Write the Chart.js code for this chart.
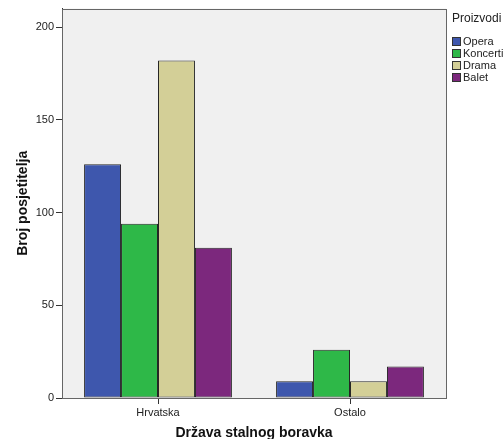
<!DOCTYPE html>
<html>
<head>
<meta charset="utf-8">
<script src="https://cdn.jsdelivr.net/npm/chart.js@4.4.0/dist/chart.umd.min.js"></script>
<style>
html, body { margin: 0; padding: 0; background: #fff; overflow: hidden; }
#wrap { width: 504px; height: 439px; position: relative; }
</style>
</head>
<body>
<div id="wrap"><canvas id="myChart"></canvas></div>
<script>
var categories = ["Hrvatska", "Ostalo"];
var seriesNames = ["Opera", "Koncerti", "Drama", "Balet"];
var opera = [126, 9];
var koncerti = [94, 26];
var drama = [182, 9];
var balet = [81, 17];
var yTicks = [0, 50, 100, 150, 200];
var colors = ["#3e57ad", "#2eb848", "#d3cf97", "#7c287d"];

var FONT = "'Liberation Sans', Arial, sans-serif";

// grey plot background + frame, like SPSS
var plotFrame = {
    id: 'plotFrame',
    beforeDraw: function(chart) {
        var a = chart.chartArea, ctx = chart.ctx;
        ctx.save();
        ctx.fillStyle = '#f0f0f0';
        ctx.fillRect(a.left, a.top, a.right - a.left, a.bottom - a.top);
        ctx.restore();
    },
    afterDraw: function(chart) {
        var a = chart.chartArea, ctx = chart.ctx;
        ctx.save();
        ctx.strokeStyle = '#666';
        ctx.lineWidth = 1;
        ctx.strokeRect(Math.round(a.left) + 0.5, Math.round(a.top) + 0.5,
            Math.round(a.right - a.left), Math.round(a.bottom - a.top));
        ctx.restore();
    }
};

// legend on the right, cut off by the picture edge
var sideLegend = {
    id: 'sideLegend',
    afterDraw: function(chart) {
        var ctx = chart.ctx;
        var x = chart.chartArea.right + 6;
        ctx.save();
        ctx.fillStyle = '#222';
        ctx.textBaseline = 'middle';
        ctx.font = '12px ' + FONT;
        ctx.fillText('Proizvodi', x, 19);
        ctx.font = '11px ' + FONT;
        chart.data.datasets.forEach(function(ds, i) {
            var y = 41.5 + i * 12;
            ctx.fillStyle = ds.backgroundColor;
            ctx.fillRect(x + 0.5, y - 4, 8, 8);
            ctx.strokeStyle = '#333';
            ctx.strokeRect(x + 0.5, y - 4, 8, 8);
            ctx.fillStyle = '#222';
            ctx.fillText(ds.label, x + 11, y + 0.5);
        });
        ctx.restore();
    }
};

var series = [opera, koncerti, drama, balet];

var config = {
    type: 'bar',
    data: {
        labels: categories,
        datasets: series.map(function(d, i) {
            return {
                label: seriesNames[i],
                data: d,
                backgroundColor: colors[i],
                borderColor: '#262626',
                borderWidth: 1,
                borderSkipped: false,
                categoryPercentage: 0.77,
                barPercentage: 1.0
            };
        })
    },
    options: {
        responsive: true,
        maintainAspectRatio: false,
        animation: false,
        layout: { padding: { top: 8, right: 58, left: 0, bottom: 0 } },
        plugins: {
            legend: { display: false },
            tooltip: { enabled: false }
        },
        scales: {
            x: {
                offset: true,
                grid: { display: true, offset: false, drawOnChartArea: false, drawTicks: true, tickLength: 6, color: '#333' },
                border: { display: true, color: '#333' },
                ticks: { color: '#222', font: { family: FONT, size: 11 }, padding: 2 },
                title: {
                    display: true,
                    text: 'Država stalnog boravka',
                    color: '#111',
                    font: { family: FONT, size: 14, weight: 'bold' },
                    padding: { top: 0, bottom: -3 }
                },
                afterFit: function(s) { s.height = 41; }
            },
            y: {
                min: 0,
                max: 210,
                grid: { display: true, drawOnChartArea: false, drawTicks: true, tickLength: 6, color: '#333' },
                border: { display: true, color: '#333' },
                ticks: { color: '#222', font: { family: FONT, size: 11 }, padding: 2, stepSize: 50, includeBounds: false },
                afterBuildTicks: function(s) {
                    s.ticks = yTicks.map(function(v) { return { value: v }; });
                },
                title: {
                    display: true,
                    text: 'Broj posjetitelja',
                    color: '#111',
                    font: { family: FONT, size: 14, weight: 'bold' },
                    padding: { top: 15, bottom: 0 }
                },
                afterFit: function(s) { s.width = 62; }
            }
        }
    },
    plugins: [plotFrame, sideLegend]
};

var ctx = document.getElementById("myChart").getContext("2d");
window.myBar = new Chart(ctx, config);
</script>
</body>
</html>
